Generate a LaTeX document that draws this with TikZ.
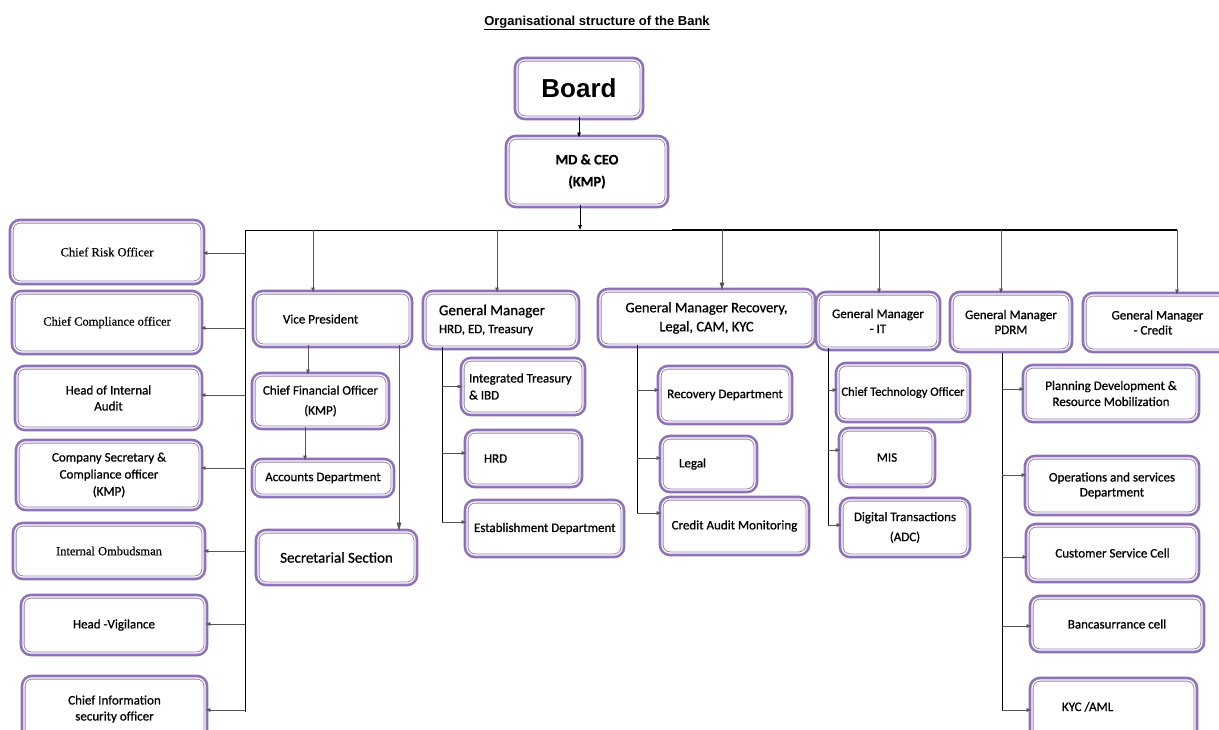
\documentclass[tikz,border=0pt]{standalone}
\usepackage{fontspec}
\setmainfont{Carlito}[FakeBold=0.8]
\newfontfamily\tnr{Liberation Serif}[FakeBold=0.5]
\newfontfamily\arl{Liberation Sans}
\usetikzlibrary{arrows.meta,calc}
\definecolor{bpur}{RGB}{140,112,182}
\definecolor{bpurl}{RGB}{150,125,190}
\definecolor{lgray}{RGB}{85,85,85}
\newcommand\brn[3]{\draw[arr] ($(#1 |- #2.west)+(0,#3)$) -- ($(#2.west)+(0,#3)$);}
\newcommand\lbr[3]{\draw[arr] ($(#1 |- #2.east)+(0,#3)$) -- ($(#2.east)+(0,#3)$);}
\begin{document}
\begin{tikzpicture}[x=1pt,y=-1pt,
  box/.style={preaction={draw=bpur, line width=6.6pt},
    draw=bpurl, line width=0.9pt, double=white, double distance=1.2pt,
    rounded corners=8pt, fill=white, align=center, inner sep=2pt,
    font=\fontsize{13}{16}\selectfont},
  sz/.style 2 args={minimum width=#1pt, minimum height=#2pt},
  arr/.style={draw=lgray, line width=0.6pt, -{Latex[length=5pt,width=4pt]}},
  ln/.style={draw=black, line width=0.8pt},
  serif/.style={font=\tnr\fontsize{12.5}{15}\selectfont}]
\useasboundingbox (0,0) rectangle (1219,729);
\clip (0,0) rectangle (1219,729);

% title
\node[font=\arl\bfseries\fontsize{13}{15}\selectfont] (title) at (597,23) {\underline{Organisational structure of the Bank}};

% top
\node[box, sz={124}{57}, font=\arl\bfseries\fontsize{26}{30}\selectfont] (board) at (579,88.5) {Board};
\node[box, sz={158}{67}, font=\bfseries\fontsize{14.5}{22}\selectfont] (md) at (587,171.5) {MD \& CEO\\(KMP)};

% left column
\node[box, sz={190}{60}, serif] (cro) at (107,252) {Chief Risk Officer};
\node[box, sz={186}{59}, serif] (cco) at (107,322.5) {Chief Compliance officer};
\node[box, sz={183}{60}] (hia) at (108.5,398) {Head of Internal\\Audit};
\node[box, sz={182}{66}, font=\fontsize{13}{17}\selectfont] (cs) at (109,475) {Company Secretary \&\\Compliance officer\\(KMP)};
\node[box, sz={188}{52}, serif] (io) at (109,551) {Internal Ombudsman};
\node[box, sz={182}{56}] (hv) at (114,625) {Head -Vigilance};
\node[box, sz={181}{62}] (ciso) at (114.5,709) {Chief Information\\security officer};

% VP column
\node[box, sz={155}{52}, inner xsep=28pt] (vp) at (332.5,319) {\makebox[99pt][l]{Vice President}};
\node[box, sz={133}{52}, font=\fontsize{13}{20}\selectfont] (cfo) at (320.5,401) {Chief Financial Officer\\(KMP)};
\node[box, sz={138}{34}] (acc) at (323,478) {Accounts Department};
\node[box, sz={157}{51}, font=\fontsize{15}{18}\selectfont] (sec) at (336.5,557.5) {Secretarial Section};

% GM HRD column
\node[box, sz={152}{54}, align=left, inner xsep=14pt, font=\fontsize{13}{18}\selectfont] (gmh) at (501,320) {\makebox[124pt][l]{\fontsize{15}{18}\selectfont General Manager}\\HRD, ED, Treasury};
\node[box, sz={120}{53}, align=left, inner xsep=6pt, font=\fontsize{13}{17}\selectfont] (itr) at (523,386.5) {\makebox[108pt][l]{Integrated Treasury}\\\& IBD};
\node[box, sz={113}{53}, inner xsep=17pt] (hrd) at (523.5,458.5) {\makebox[79pt][l]{HRD}};
\node[box, sz={155}{53}, inner xsep=7pt] (est) at (544.5,528.5) {\makebox[141pt][l]{Establishment Department}};

% GM Recovery column
\node[box, sz={213}{54}, font=\fontsize{14.5}{19}\selectfont] (gmr) at (706.5,318) {General Manager Recovery,\\Legal, CAM, KYC};
\node[box, sz={130}{54}] (rec) at (725,395) {Recovery Department};
\node[box, sz={93}{52}, inner xsep=17pt] (leg) at (708.5,464) {\makebox[59pt][l]{Legal}};
\node[box, sz={145}{54}] (cam) at (734.5,526) {Credit Audit Monitoring};

% GM IT column
\node[box, sz={120}{54}, font=\fontsize{13}{15}\selectfont] (gmit) at (878,321) {General Manager\\- IT};
\node[box, sz={130}{55}, font=\fontsize{12.5}{15}\selectfont] (cto) at (903,392.5) {Chief Technology Officer};
\node[box, sz={92}{55}] (mis) at (887,457.5) {MIS};
\node[box, sz={126}{55}, font=\fontsize{13}{20}\selectfont] (dig) at (905,527.5) {Digital Transactions\\(ADC)};

% GM PDRM / Credit
\node[box, sz={118}{56}, font=\fontsize{13}{15}\selectfont] (gmp) at (1011,322) {General Manager\\PDRM};
\node[box, sz={145}{55}, font=\fontsize{13}{15}\selectfont, inner xsep=2pt] (gmc) at (1157.5,322.5) {General Manager\\- Credit\hspace*{9pt}};
\node[box, sz={172}{53}] (pd) at (1111,393.5) {Planning Development \&\\Resource Mobilization};
\node[box, sz={170}{55}, font=\fontsize{13}{15}\selectfont] (ops) at (1112,485.5) {Operations and services\\Department};
\node[box, sz={169}{54}] (csc) at (1112.5,553) {Customer Service Cell};
\node[box, sz={170}{52}] (ban) at (1117,624) {Bancasurrance cell};
\node[box, sz={163}{60}, inner xsep=30pt] (kyc) at (1113.5,710) {\makebox[103pt][l]{\raisebox{7pt}{KYC /AML}}};

% bus coordinates
\coordinate (bL) at (245,230);
\coordinate (bM) at (580,230);
\coordinate (bT) at (672,230);
\coordinate (bR) at (1177,230);
\coordinate (lvB) at (245,712);
\coordinate (d1) at (313,230);
\coordinate (d2) at (497,230);
\coordinate (d3) at (722,230);
\coordinate (d4) at (879,230);
\coordinate (d5) at (1001,230);
\coordinate (vx1) at (308,0);
\coordinate (vx2) at (305,0);
\coordinate (vx3) at (399,0);
\coordinate (s1) at (442,0);
\coordinate (s2) at (637,0);
\coordinate (s3) at (828,0);
\coordinate (s4) at (1002,0);

% top connectors
\draw[arr, draw=black] (board.south) -- (board.south |- md.north);
\draw[arr, draw=black] (md.south -| bM) -- (bM);
\draw[ln] (bL) -- (bR);
\draw[line width=1.6pt] (bT) -- (bR);
\draw[ln] (bL) -- (lvB);

% left branch arrows
\lbr{bL}{cro}{1}
\lbr{bL}{cco}{5.5}
\lbr{bL}{hia}{-3}
\lbr{bL}{cs}{-7}
\lbr{bL}{io}{0}
\lbr{bL}{hv}{-1}
\lbr{bL}{ciso}{1}

% drops from bus
\draw[arr] (d1) -- (d1 |- vp.north);
\draw[arr] (d2) -- (d2 |- gmh.north);
\draw[arr, -{Latex[length=8pt,width=5pt]}] (d3) -- (d3 |- gmr.north);
\draw[arr] (d4) -- (d4 |- gmit.north);
\draw[arr] (d5) -- (d5 |- gmp.north);
\draw[arr] (bR) -- (bR |- gmc.north);

% VP subtree
\draw[arr] (vp.south -| vx1) -- (cfo.north -| vx1);
\draw[arr] (cfo.south -| vx2) -- (acc.north -| vx2);
\draw[arr, -{Latex[length=9pt,width=5pt]}] (vp.south -| vx3) -- (sec.north -| vx3);

% GM HRD subtree
\draw[ln] (gmh.south -| s1) -- ($(s1 |- est.west)+(0,-6.5)$);
\brn{s1}{itr}{0}
\brn{s1}{hrd}{-5.5}
\brn{s1}{est}{-6.5}

% GM Recovery subtree
\draw[ln] (gmr.south -| s2) -- ($(s2 |- cam.west)+(0,-13)$);
\brn{s2}{rec}{-5}
\brn{s2}{leg}{-6}
\brn{s2}{cam}{-13}

% GM IT subtree
\draw[ln] (gmit.south -| s3) -- ($(s3 |- dig.west)+(0,-2.5)$);
\brn{s3}{cto}{-2.5}
\brn{s3}{mis}{-7.5}
\brn{s3}{dig}{-2.5}

% GM PDRM subtree
\draw[ln] ($(gmp.south -| s4)+(0,3)$) -- (s4 |- kyc.west);
\brn{s4}{pd}{-4.5}
\brn{s4}{ops}{-10.5}
\brn{s4}{csc}{4}
\brn{s4}{ban}{2}
\brn{s4}{kyc}{0}
\end{tikzpicture}
\end{document}
